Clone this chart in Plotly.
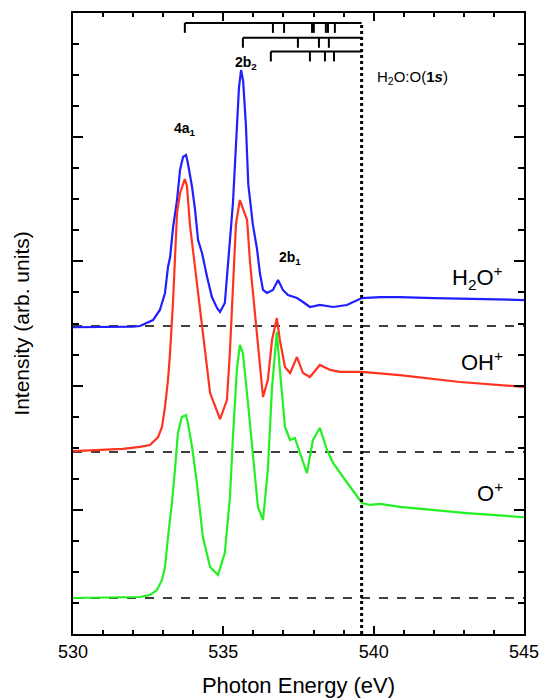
import plotly.graph_objects as go

# ---------------- data ----------------
h2o_x = [530, 531, 532, 532.23, 532.66, 532.89, 533.06, 533.16, 533.23, 533.33, 533.46, 533.56,
         533.66, 533.76, 533.82, 533.96, 534.06, 534.16, 534.29, 534.46, 534.62, 534.79, 534.89,
         535.05, 535.15, 535.22, 535.32, 535.45, 535.52, 535.59, 535.66, 535.75, 535.83, 535.98,
         536.12, 536.22, 536.32, 536.45, 536.65, 536.82, 536.98, 537.15, 537.45, 537.65, 537.88,
         538.21, 538.65, 539.11, 539.61, 540.21, 540.87, 542, 543, 544, 545]
h2o_y = [2.47, 2.47, 2.475, 2.48, 2.528, 2.609, 2.746, 2.955, 3.035, 3.277, 3.494, 3.736,
         3.841, 3.857, 3.792, 3.599, 3.414, 3.172, 3.068, 2.874, 2.713, 2.625, 2.593,
         2.665, 2.931, 3.172, 3.470, 4.058, 4.40, 4.541, 4.45, 4.10, 3.62, 3.30,
         3.10, 2.90, 2.77, 2.746, 2.770, 2.850, 2.770, 2.729, 2.705, 2.673, 2.633,
         2.649, 2.633, 2.649, 2.705, 2.713, 2.713, 2.705, 2.70, 2.695, 2.689]

oh_x = [530, 531.66, 532.23, 532.56, 532.83, 532.96, 533.06, 533.16, 533.23, 533.33, 533.46,
        533.56, 533.72, 533.79, 533.89, 533.99, 534.16, 534.32, 534.56, 534.89, 535.12, 535.22,
        535.32, 535.42, 535.55, 535.79, 535.89, 536.05, 536.32, 536.48, 536.62, 536.78, 536.88,
        537.05, 537.22, 537.45, 537.65, 537.88, 538.21, 538.55, 538.88, 539.61, 540.21, 540.87,
        542.87, 545]
oh_y = [1.473, 1.490, 1.506, 1.522, 1.586, 1.667, 1.828, 2.045, 2.271, 2.689, 3.390,
        3.551, 3.663, 3.607, 3.293, 3.092, 2.770, 2.448, 1.940, 1.731, 1.884, 2.28,
        2.85, 3.30, 3.494, 3.333, 2.987, 2.585, 1.908, 2.045, 2.367, 2.544, 2.367,
        2.150, 2.101, 2.230, 2.101, 2.069, 2.166, 2.126, 2.110, 2.110, 2.101, 2.085,
        2.029, 1.989]

o_x = [530, 532.23, 532.56, 532.79, 532.96, 533.06, 533.16, 533.29, 533.39, 533.49, 533.62,
       533.76, 533.82, 533.96, 534.12, 534.32, 534.56, 534.82, 535.05, 535.22, 535.32, 535.45,
       535.55, 535.65, 535.82, 535.99, 536.15, 536.32, 536.48, 536.62, 536.78, 536.88, 537.05,
       537.22, 537.38, 537.55, 537.78, 537.98, 538.21, 538.45, 538.65, 538.98, 539.31, 539.61,
       539.88, 540.21, 540.87, 543.10, 545]
o_y = [0.290, 0.298, 0.314, 0.354, 0.435, 0.539, 0.781, 1.055, 1.320, 1.618, 1.747,
       1.763, 1.700, 1.506, 1.216, 0.781, 0.539, 0.475, 0.652, 1.103, 1.586, 2.126,
       2.327, 2.262, 1.860, 1.457, 1.023, 0.918, 1.320, 1.989, 2.432, 2.126, 1.667,
       1.562, 1.578, 1.457, 1.296, 1.562, 1.659, 1.481, 1.377, 1.264, 1.159, 1.055,
       1.039, 1.047, 1.023, 0.974, 0.940]

baselines = [2.48, 1.465, 0.29]          # H2O+, OH+, O+ zero levels
series_names = ["H<sub>2</sub>O<sup>+</sup>", "OH<sup>+</sup>", "O<sup>+</sup>"]
series_colors = ["#1f1fff", "#ff3320", "#22f022"]

ionization_energy = 539.6
ladder_starts = [533.72, 535.65, 536.58]
ladder_lines = [[536.65, 537.02, 537.95, 538.01, 538.41, 538.48, 538.71],
                [537.48, 538.18, 538.51],
                [537.88, 538.38, 538.68]]
ladder_levels = [4.92, 4.80, 4.69]
ladder_tick = 0.08

x_ticks = [530, 535, 540, 545]
peak_labels = ["<b>4a<sub>1</sub></b>", "<b>2b<sub>2</sub></b>", "<b>2b<sub>1</sub></b>"]
peak_label_x = [533.72, 535.75, 537.22]
peak_label_y = [4.07, 4.60, 3.03]

# ---------------- figure ----------------
FONT = "Liberation Sans, Arial, Helvetica, sans-serif"
fig = go.Figure()

# dashed baselines
for b in baselines:
    fig.add_trace(go.Scatter(x=[530, 545], y=[b, b], mode="lines",
                             line=dict(color="black", width=1.5, dash="dash"),
                             hoverinfo="skip", showlegend=False))

# spectra
for xs, ys, c in zip([h2o_x, oh_x, o_x], [h2o_y, oh_y, o_y], series_colors):
    fig.add_trace(go.Scatter(x=xs, y=ys, mode="lines", line=dict(color=c, width=2.2),
                             showlegend=False))

# ionization threshold dotted line
fig.add_trace(go.Scatter(x=[ionization_energy, ionization_energy], y=[0, ladder_levels[0]],
                         mode="lines", line=dict(color="black", width=3, dash="dot"),
                         hoverinfo="skip", showlegend=False))

# Rydberg ladders
for start, lines, lev in zip(ladder_starts, ladder_lines, ladder_levels):
    lx, ly = [start, ionization_energy, None], [lev, lev, None]
    for e in [start] + lines:
        lx += [e, e, None]
        ly += [lev, lev - ladder_tick, None]
    fig.add_trace(go.Scatter(x=lx, y=ly, mode="lines", line=dict(color="black", width=2),
                             hoverinfo="skip", showlegend=False))

annotations = []
for t, x, y in zip(peak_labels, peak_label_x, peak_label_y):
    annotations.append(dict(x=x, y=y, text=t, showarrow=False,
                            font=dict(size=14, color="black", family=FONT)))
annotations.append(dict(x=540.04, y=4.48, xanchor="left",
                        text="H<sub>2</sub>O:O(<b>1<i>s</i></b>)",
                        showarrow=False, font=dict(size=15, color="black", family=FONT)))
name_y = [2.87, 2.20, 1.14]
for t, y in zip(series_names, name_y):
    annotations.append(dict(x=544.37, y=y, xanchor="right", text=t, showarrow=False,
                            font=dict(size=22, color="black", family=FONT)))

fig.update_layout(
    width=541, height=698,
    margin=dict(l=73, r=17, t=13, b=64),
    paper_bgcolor="white", plot_bgcolor="white",
    font=dict(family=FONT, color="black"),
    annotations=annotations,
    xaxis=dict(range=[530, 545], tickvals=x_ticks, ticks="inside", ticklen=8, tickwidth=2,
               minor=dict(dtick=1, ticks="inside", ticklen=4, tickwidth=2, tickcolor="black"),
               showline=True, linecolor="black", linewidth=2, mirror="allticks",
               showgrid=False, zeroline=False, tickcolor="black", automargin=False,
               tickfont=dict(size=18, family=FONT),
               title=dict(text="Photon Energy (eV)", font=dict(size=22, family=FONT), standoff=20)),
    yaxis=dict(range=[0, 5], dtick=1, ticks="inside", ticklen=10, tickwidth=2,
               minor=dict(dtick=0.25, ticks="inside", ticklen=6, tickwidth=2, tickcolor="black"),
               showline=True, linecolor="black", linewidth=2, mirror="allticks",
               showgrid=False, zeroline=False, showticklabels=False, tickcolor="black",
               automargin=False,
               title=dict(text="Intensity (arb. units)", font=dict(size=21, family=FONT), standoff=36)),
)

fig.write_html("out.html", config={"displayModeBar": False},
               post_script="document.body.style.margin='0';document.body.style.overflow='hidden';")
